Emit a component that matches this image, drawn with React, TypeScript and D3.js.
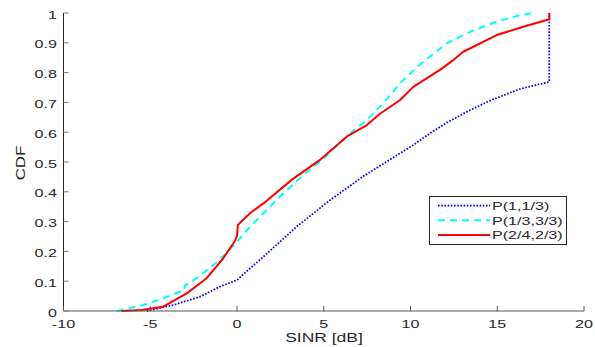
import React from "react";
import * as d3 from "d3";

const xTicks = [-10, -5, 0, 5, 10, 15, 20];
const yTicks = [0, 0.1, 0.2, 0.3, 0.4, 0.5, 0.6, 0.7, 0.8, 0.9, 1];

const blueX = [-5.2, -3.67, -2.13, -0.98, 0, 0.75, 1.52, 3.44, 5.36, 7.28, 8.24, 9.2, 10.16, 11.12, 12.09, 13.3, 14.5, 16.3, 18, 18];
const blueY = [0, 0.02, 0.048, 0.082, 0.104, 0.143, 0.182, 0.283, 0.372, 0.452, 0.487, 0.522, 0.557, 0.596, 0.632, 0.67, 0.704, 0.745, 0.769, 1];

const cyanX = [-6.93, -5.4, -4.25, -3.05, -3.0, -2.32, -1.37, -0.6, 0, 0.75, 1.52, 2.67, 3.82, 4.97, 6.41, 7.48, 8.43, 9.4, 10.55, 12.09, 13.43, 14.97, 16.3, 16.98];
const cyanY = [0, 0.02, 0.043, 0.07, 0.085, 0.11, 0.154, 0.194, 0.232, 0.283, 0.328, 0.395, 0.456, 0.512, 0.59, 0.641, 0.697, 0.764, 0.828, 0.898, 0.937, 0.971, 0.993, 0.999];

const redX = [-6.65, -5.5, -4.27, -2.9, -1.75, -0.79, -0.12, 0, 0.05, 0.75, 1.52, 3.15, 4.78, 6.32, 7.48, 8.24, 9.4, 10.16, 11.7, 12.47, 13.04, 14.97, 16.5, 18, 18];
const redY = [0, 0.003, 0.014, 0.059, 0.11, 0.177, 0.235, 0.252, 0.289, 0.328, 0.361, 0.44, 0.507, 0.585, 0.624, 0.662, 0.708, 0.752, 0.809, 0.842, 0.87, 0.926, 0.954, 0.979, 1];

const seriesNames = ["P(1,1/3)", "P(1/3,3/3)", "P(2/4,2/3)"];

const W = 595;
const H = 347;
const STRETCH = 1.4;

function WideText(props: {
  x: number;
  y: number;
  anchor?: "start" | "middle" | "end";
  size: number;
  fill: string;
  children: React.ReactNode;
}) {
  return (
    <text
      transform={`translate(${props.x},${props.y}) scale(${STRETCH},1)`}
      textAnchor={props.anchor || "start"}
      fontSize={props.size}
      fill={props.fill}
    >
      {props.children}
    </text>
  );
}

export default function App() {
  const x = d3.scaleLinear().domain([-10, 20]).range([63.5, 584]);
  const y = d3.scaleLinear().domain([0, 1]).range([311, 13]);
  const line = d3
    .line<[number, number]>()
    .x((d) => x(d[0]))
    .y((d) => y(d[1]));
  const zip = (a: number[], b: number[]) => a.map((v, i) => [v, b[i]] as [number, number]);

  const series = [
    { data: zip(blueX, blueY), color: "#0000ff", dash: "1.6,1.6", width: 1.8 },
    { data: zip(cyanX, cyanY), color: "#00ffff", dash: "7,5", width: 2 },
    { data: zip(redX, redY), color: "#ff0000", dash: "", width: 2 },
  ];

  const font = "'Liberation Sans', Arial, Helvetica, sans-serif";
  const textColor = "#262626";

  return (
    <svg
      width={W}
      height={H}
      style={{ position: "absolute", left: 0, top: 0, background: "#fff" }}
      fontFamily={font}
    >
      <rect x={0} y={0} width={W} height={H} fill="#fff" />
      {series.map((s, i) => (
        <path
          key={i}
          d={line(s.data) || ""}
          fill="none"
          stroke={s.color}
          strokeWidth={s.width}
          strokeDasharray={s.dash || undefined}
          strokeLinejoin="round"
        />
      ))}
      {/* axes */}
      <line x1={x(-10)} x2={x(20)} y1={y(0)} y2={y(0)} stroke="#555" strokeWidth={1} />
      <line x1={x(-10)} x2={x(-10)} y1={y(0)} y2={y(1)} stroke="#262626" strokeWidth={1} />
      {xTicks.map((t) => (
        <g key={"x" + t}>
          <line x1={x(t)} x2={x(t)} y1={y(0)} y2={y(0) - 5} stroke="#555" strokeWidth={1} />
          <WideText x={x(t)} y={327.5} anchor="middle" size={11.5} fill={textColor}>
            {t}
          </WideText>
        </g>
      ))}
      {yTicks.map((t) => (
        <g key={"y" + t}>
          <line x1={x(-10)} x2={x(-10) + 5} y1={y(t)} y2={y(t)} stroke="#777" strokeWidth={1} />
          <WideText x={57} y={y(t) + 5.5} anchor="end" size={11.5} fill={textColor}>
            {t}
          </WideText>
        </g>
      ))}
      <WideText x={324} y={341.5} anchor="middle" size={12.5} fill={textColor}>
        SINR [dB]
      </WideText>
      <text
        transform={`translate(24.5,${y(0.5) + 1}) rotate(-90) scale(1.3,1)`}
        textAnchor="middle"
        fontSize={13}
        fill={textColor}
      >
        CDF
      </text>
      {/* legend */}
      <rect x={429.5} y={196.5} width={137} height={48} fill="#fff" stroke="#262626" strokeWidth={1} />
      {series.map((s, i) => {
        const ly = 205.7 + i * 14.6;
        return (
          <g key={"l" + i}>
            <line
              x1={438}
              x2={490}
              y1={ly}
              y2={ly}
              stroke={s.color}
              strokeWidth={s.width}
              strokeDasharray={s.dash || undefined}
            />
            <WideText x={492} y={ly + 4.5} size={11.5} fill={textColor}>
              {seriesNames[i]}
            </WideText>
          </g>
        );
      })}
    </svg>
  );
}
